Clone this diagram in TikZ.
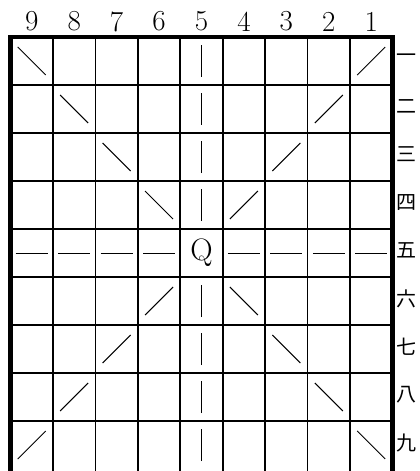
\documentclass[tikz,border=0pt]{standalone}
\usepackage{fontspec}
\newfontfamily\jpfont{Noto Sans CJK JP}
\begin{document}
\begin{tikzpicture}[x=42.44pt,y=-48pt,
  grid/.style={line width=1.6pt},
  frame/.style={line width=4.4pt,line join=miter},
  move/.style={line width=1pt},
  file/.style={font=\fontsize{29}{29}\selectfont},
  rank/.style={font=\jpfont\fontsize{20}{20}\selectfont},
  piece/.style={font=\fontsize{31}{31}\selectfont}]
\useasboundingbox (-0.2474,-0.7708) rectangle (9.6489,9.0417);
\foreach \i in {1,...,8} {
  \draw[grid] (\i,0) -- (\i,9.2);
  \draw[grid] (0,\i) -- (9,\i);
}
\draw[frame] (0,9.2) -- (0,0) -- (9,0) -- (9,9.2);
\foreach \n [count=\i] in {9,...,1}
  \node[file] (f\n) at (\i-0.5,-0.32) {\n};
\foreach \k [count=\j] in {一,二,三,四,五,六,七,八,九}
  \node[rank] (r\j) at (9.33,\j-0.55) {\k};
\node[piece] (q) at (4.5,4.5) {Q};
\foreach \i in {0,1,2,3,5,6,7,8} {
  \path (\i+0.5,\i+0.5) coordinate (d\i)
        (\i+0.5,8.5-\i) coordinate (a\i)
        (\i+0.5,4.5) coordinate (h\i)
        (4.5,\i+0.5) coordinate (v\i);
  \draw[move] ([shift={(-14pt,14pt)}]d\i) -- ([shift={(14pt,-14pt)}]d\i);
  \draw[move] ([shift={(-14pt,-14pt)}]a\i) -- ([shift={(14pt,14pt)}]a\i);
  \draw[move] ([shift={(-16pt,0pt)}]h\i) -- ([shift={(16pt,0pt)}]h\i);
  \draw[move] ([shift={(0pt,-16pt)}]v\i) -- ([shift={(0pt,16pt)}]v\i);
}
\end{tikzpicture}
\end{document}
